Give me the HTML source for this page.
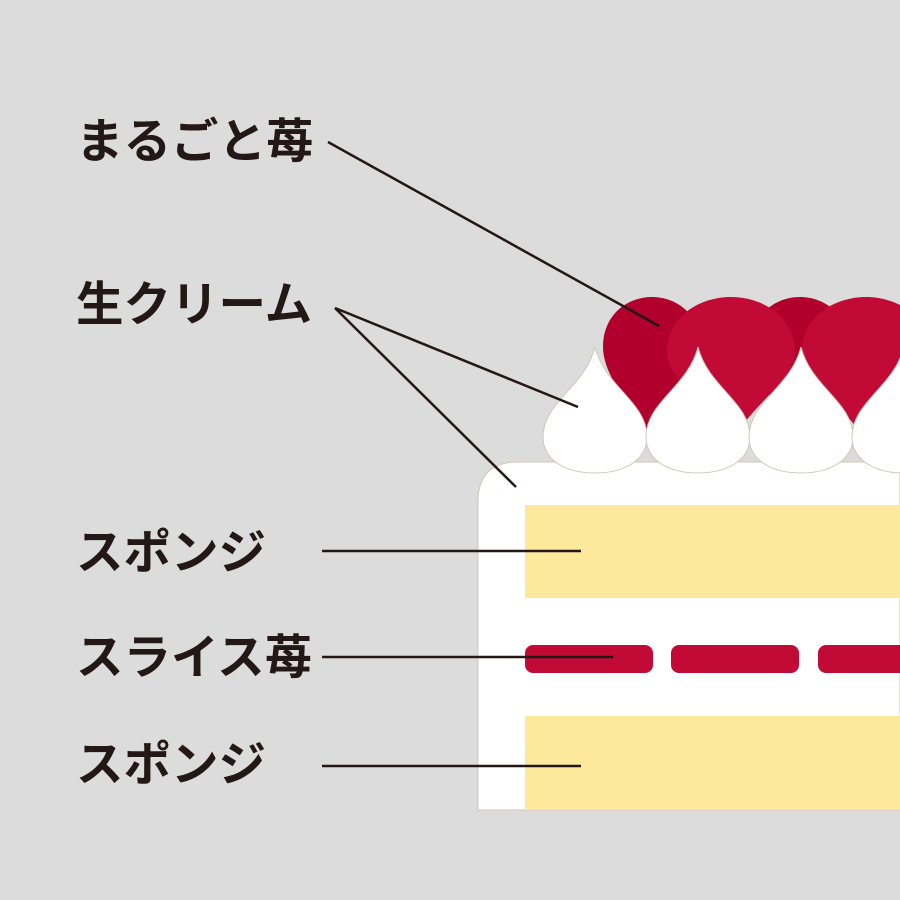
<!DOCTYPE html>
<html><head><meta charset="utf-8"><style>
html,body{margin:0;padding:0;background:#dcdcdc;}
svg{display:block}
text{font-family:"Liberation Sans","Noto Sans CJK JP",sans-serif;font-weight:bold;font-size:47.5px;fill:#231815}
</style></head><body>
<svg width="900" height="900" viewBox="0 0 900 900" xmlns="http://www.w3.org/2000/svg">
<rect width="900" height="900" fill="#dcdcdc"/>
<defs>
<path id="dark" d="M0,150 C-8,120 -49,85 -49,50 C-49,18 -25,0 0,0 C25,0 49,18 49,50 C49,85 8,120 0,150 Z"/>
<path id="bright" d="M0,150 C-10,115 -64,85 -64,55 C-64,20 -32,0 0,0 C32,0 64,20 64,55 C64,85 10,115 0,150 Z"/>
<path id="cream" d="M0,0 C10,40 52,55 52,90 C52,114 28,126 0,126 C-28,126 -52,114 -52,90 C-52,55 -10,40 0,0 Z" fill="#fff" stroke="#cfc8b8" stroke-width="1"/>
</defs>
<g fill="#b0002b">
<use href="#dark" x="652" y="297"/>
<use href="#dark" x="800" y="297"/>
</g>
<g fill="#c20a36">
<use href="#bright" x="731" y="297"/>
<use href="#bright" x="866" y="297"/>
</g>
<path d="M478,810 L478,502 Q478,462 518,462 L900,462 L900,810 Z" fill="#fff" stroke="#cfc8b8" stroke-width="1"/>
<rect x="525" y="505" width="375" height="93" fill="#fde89c"/>
<rect x="525" y="716" width="375" height="94" fill="#fde89c"/>
<g fill="#c20a36">
<rect x="525" y="645" width="128" height="28" rx="8"/>
<rect x="671" y="645" width="128" height="28" rx="8"/>
<rect x="818" y="645" width="100" height="28" rx="8"/>
</g>
<use href="#cream" x="595" y="347"/>
<use href="#cream" x="698" y="347"/>
<use href="#cream" x="801" y="347"/>
<use href="#cream" x="904" y="347"/>
<g stroke="#231815" stroke-width="2.5">
<line x1="328" y1="142" x2="659" y2="326"/>
<line x1="335" y1="308" x2="578" y2="407"/>
<line x1="335" y1="308" x2="516" y2="487"/>
<line x1="322" y1="551" x2="581" y2="551"/>
<line x1="322" y1="657" x2="613" y2="657"/>
<line x1="322" y1="766" x2="581" y2="766"/>
</g>
<text x="76" y="158">まるごと苺</text>
<text x="76" y="321">生クリーム</text>
<text x="76" y="569">スポンジ</text>
<text x="76" y="674">スライス苺</text>
<text x="76" y="781">スポンジ</text>
</svg>
</body></html>
